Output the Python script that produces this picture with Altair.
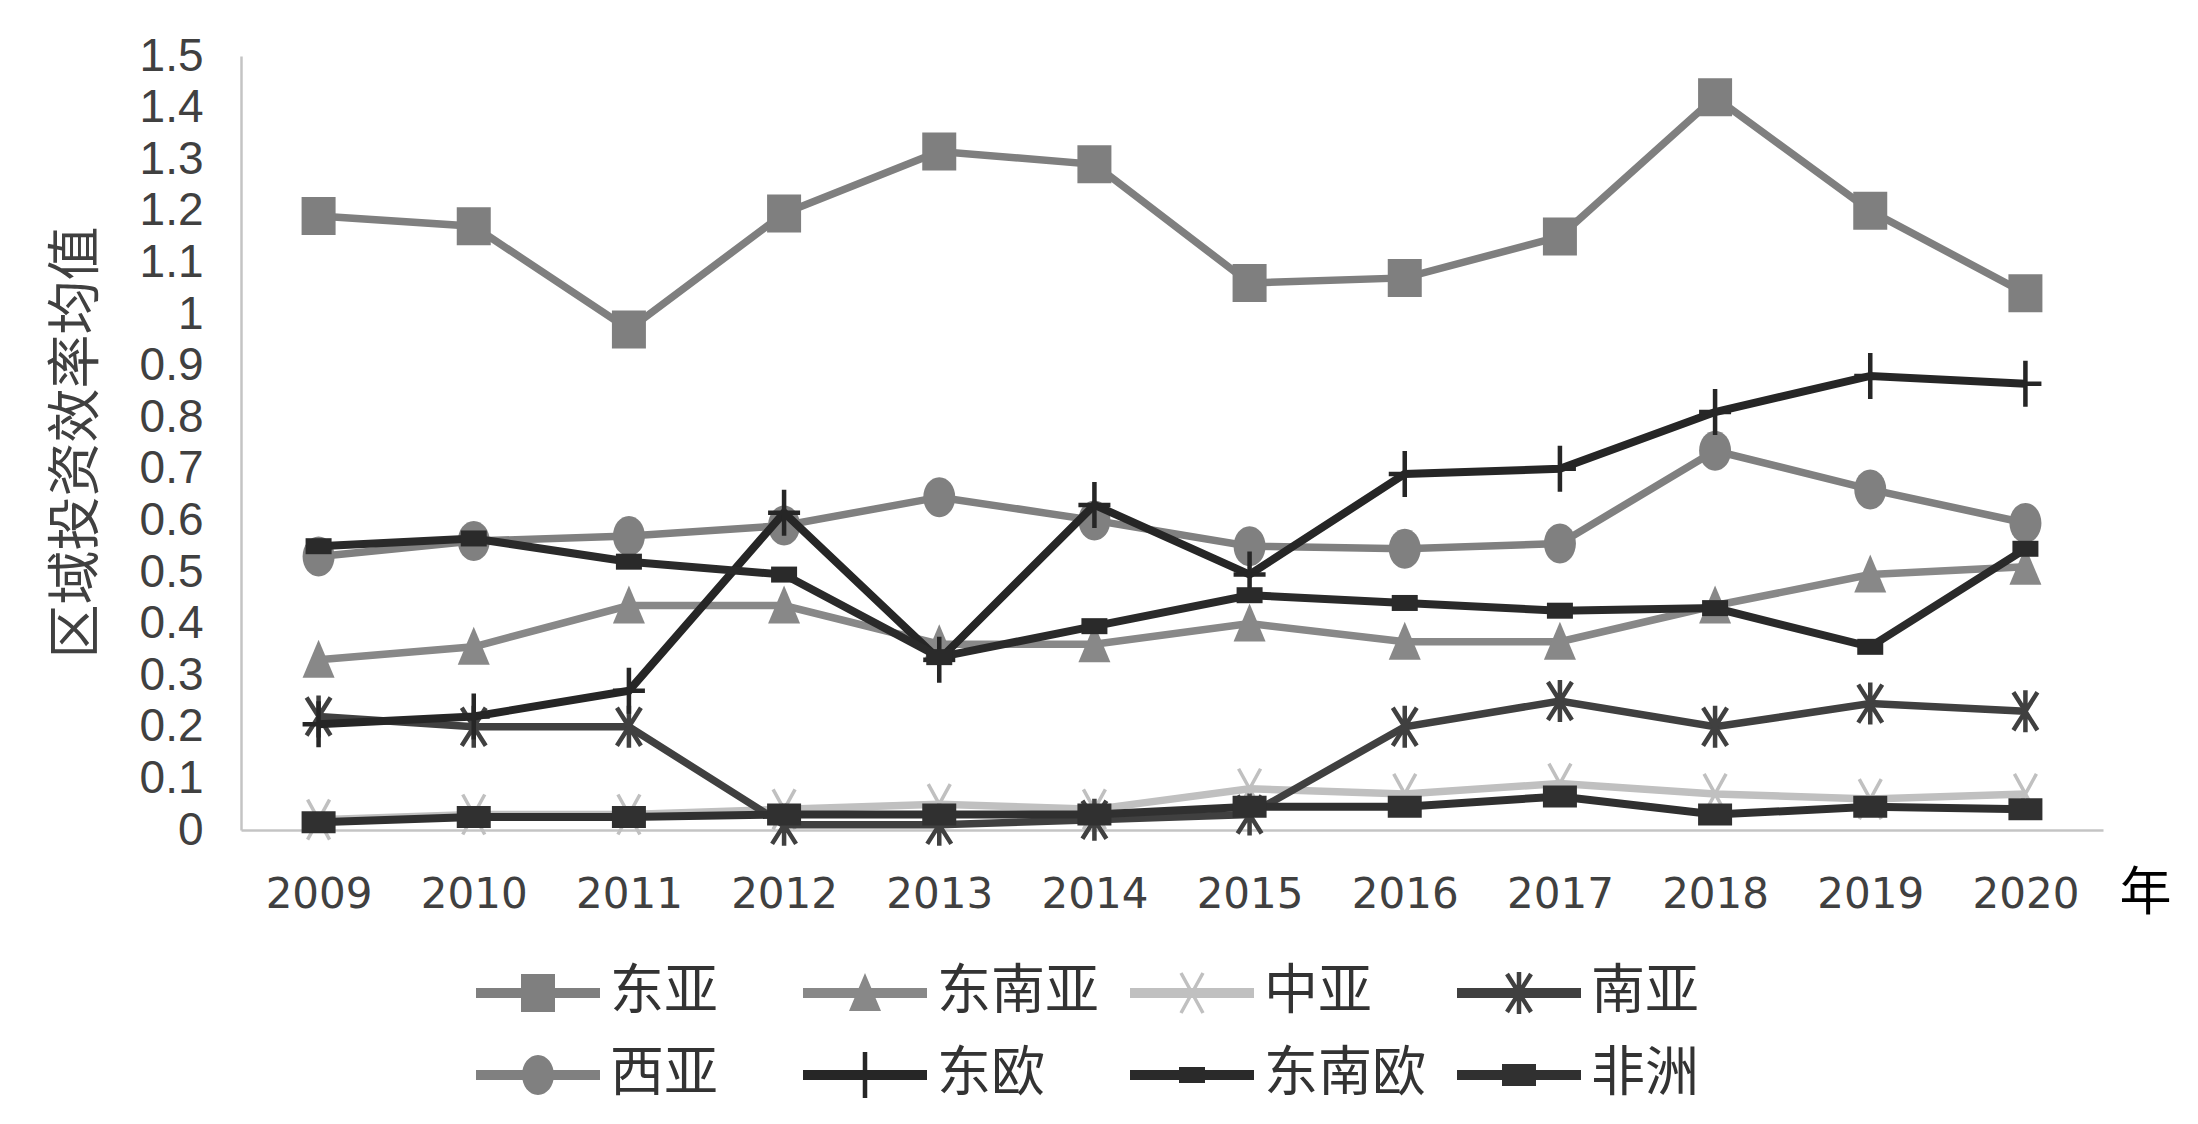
import altair as alt
import pandas as pd

# ---------------- data ----------------
years = [2009, 2010, 2011, 2012, 2013, 2014, 2015, 2016, 2017, 2018, 2019, 2020]
series_names = ["东亚", "东南亚", "中亚", "南亚", "西亚", "东欧", "东南欧", "非洲"]

east_asia = [1.19, 1.17, 0.97, 1.195, 1.315, 1.29, 1.06, 1.07, 1.15, 1.42, 1.20, 1.04]
southeast_asia = [0.33, 0.355, 0.435, 0.435, 0.36, 0.36, 0.40, 0.365, 0.365, 0.435, 0.495, 0.51]
central_asia = [0.02, 0.03, 0.03, 0.04, 0.05, 0.04, 0.08, 0.07, 0.09, 0.07, 0.06, 0.07]
south_asia = [0.22, 0.20, 0.20, 0.01, 0.01, 0.02, 0.03, 0.20, 0.25, 0.20, 0.245, 0.23]
west_asia = [0.53, 0.56, 0.57, 0.59, 0.645, 0.60, 0.55, 0.545, 0.555, 0.735, 0.66, 0.595]
east_europe = [0.205, 0.22, 0.27, 0.615, 0.33, 0.63, 0.495, 0.69, 0.70, 0.81, 0.88, 0.865]
southeast_europe = [0.55, 0.565, 0.52, 0.495, 0.335, 0.395, 0.455, 0.44, 0.425, 0.43, 0.355, 0.545]
africa = [0.015, 0.025, 0.025, 0.03, 0.03, 0.03, 0.045, 0.045, 0.065, 0.03, 0.045, 0.04]

all_values = [east_asia, southeast_asia, central_asia, south_asia,
              west_asia, east_europe, southeast_europe, africa]

series_colors = ["#7f7f7f", "#888888", "#c0c0c0", "#404040",
                 "#808080", "#262626", "#2a2a2a", "#303030"]
line_widths = [7.5, 7.5, 7.5, 7.5, 7.5, 8, 8, 8]

y_ticks = [0, 0.1, 0.2, 0.3, 0.4, 0.5, 0.6, 0.7, 0.8, 0.9, 1.0, 1.1, 1.2, 1.3, 1.4, 1.5]

rows = []
for name, vals in zip(series_names, all_values):
    for yr, v in zip(years, vals):
        rows.append({"year": str(yr), "series": name, "value": v})
df = pd.DataFrame(rows)

# ---------------- marker shapes (custom symbol paths, unit = 20px) ----------------
U = 20.0


def poly(pts):
    area = 0.0
    for i in range(len(pts)):
        x1, y1 = pts[i]
        x2, y2 = pts[(i + 1) % len(pts)]
        area += x1 * y2 - x2 * y1
    if area < 0:
        pts = pts[::-1]
    return "M" + "L".join(f"{x / U:.3f},{y / U:.3f}" for x, y in pts) + "Z"


def rect(w, h, cx=0.0, cy=0.0):
    return poly([(cx - w / 2, cy - h / 2), (cx + w / 2, cy - h / 2),
                 (cx + w / 2, cy + h / 2), (cx - w / 2, cy + h / 2)])


def bar(x1, y1, x2, y2, t):
    dx, dy = x2 - x1, y2 - y1
    ln = (dx * dx + dy * dy) ** 0.5
    nx, ny = -dy / ln * t / 2, dx / ln * t / 2
    return poly([(x1 + nx, y1 + ny), (x2 + nx, y2 + ny), (x2 - nx, y2 - ny), (x1 - nx, y1 - ny)])


def ellipse(rx, ry):
    a, b = rx / U, ry / U
    return f"M{-a:.3f},0A{a:.3f},{b:.3f},0,1,1,{a:.3f},0A{a:.3f},{b:.3f},0,1,1,{-a:.3f},0Z"


marker_paths = [
    rect(34, 38),                                            # 东亚 square
    poly([(0, -20), (16, 18), (-16, 18)]),                   # 东南亚 triangle
    bar(-11, -20, 11, 20, 3.5) + bar(11, -20, -11, 20, 3.5),  # 中亚 x
    bar(-12, -19, 12, 19, 4.5) + bar(12, -19, -12, 19, 4.5) + bar(0, -21, 0, 21, 4.5),  # 南亚 asterisk
    ellipse(16, 20),                                         # 西亚 circle
    bar(0, -23, 0, 23, 4.5) + bar(-16, 0, 16, 0, 4.5),       # 东欧 plus
    rect(26, 16),                                            # 东南欧 dash
    rect(34, 22),                                            # 非洲 dash
]
legend_line = rect(124, 10)
legend_paths = [legend_line + p for p in marker_paths]

# ---------------- encodings ----------------
x_axis = alt.Axis(
    labelAngle=0, labelFont="DejaVu Sans", labelFontSize=42, labelColor="#404040",
    labelPadding=44, labelOverlap=False, ticks=False, grid=False,
    domainColor="#c4c4c4", domainWidth=2.5,
    title="年", titleFont="Noto Sans CJK SC", titleFontSize=52, titleFontWeight="normal",
    titleColor="#000000", titleX=1904, titleY=63, titleAlign="center", titleBaseline="middle",
)
y_axis = alt.Axis(
    values=y_ticks, format=".1~f", labelFont="Liberation Sans", labelFontSize=46,
    labelColor="#404040", labelPadding=38, labelOverlap=False, ticks=False, grid=False,
    domainColor="#c4c4c4", domainWidth=2.5,
    title="区域投资效率均值", titleFont="Noto Sans CJK SC", titleFontSize=54,
    titleFontWeight="normal", titleColor="#404040", titleX=-164, titleY=386,
    titleAngle=270, titleAlign="center", titleBaseline="middle",
)

x_enc = alt.X("year:O", scale=alt.Scale(type="point", padding=0.5), axis=x_axis)
y_enc = alt.Y("value:Q", scale=alt.Scale(domain=[0, 1.5], nice=False, zero=True), axis=y_axis)

base = alt.Chart(df)
layers = []
for name, color, path, lw in zip(series_names, series_colors, marker_paths, line_widths):
    sub = base.transform_filter(alt.datum.series == name)
    layers.append(sub.mark_line(color=color, strokeWidth=lw).encode(x=x_enc, y=y_enc))
    layers.append(sub.mark_point(shape=path, size=1600, filled=True, color=color,
                                 opacity=1, strokeWidth=0).encode(x=x_enc, y=y_enc))

legend = alt.Legend(
    title=None, orient="none", legendX=228, legendY=910, columns=4, direction="horizontal",
    gridAlign="all", columnPadding=24, rowPadding=28, symbolSize=1600, symbolStrokeWidth=0,
    symbolOffset=42, labelOffset=45, labelFont="Noto Sans CJK SC", labelFontSize=54,
    labelColor="#333333", labelLimit=400, padding=0,
)
legend_layer = base.transform_filter("false").mark_point(
    filled=True, size=1600, opacity=1, strokeWidth=0
).encode(
    x=x_enc, y=y_enc,
    color=alt.Color("series:N", scale=alt.Scale(domain=series_names, range=series_colors), legend=legend),
    shape=alt.Shape("series:N", scale=alt.Scale(domain=series_names, range=legend_paths), legend=legend),
)
layers.append(legend_layer)

chart = alt.layer(*layers).properties(
    width=1862, height=774,
    padding={"left": 233, "top": 48, "right": 85, "bottom": 284},
    autosize=alt.AutoSizeParams(type="none"),
    background="#ffffff",
).configure_view(stroke=None)

chart.save("out.html", embed_options={"renderer": "svg", "actions": False})
